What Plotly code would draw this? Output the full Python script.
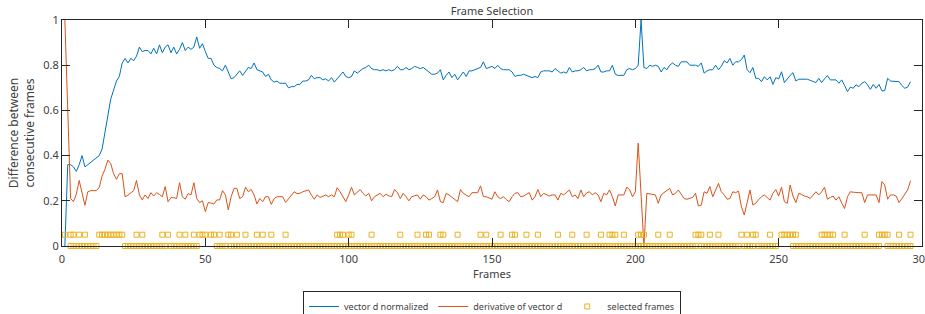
import plotly.graph_objects as go

# ---------------- data ----------------
vector_d = [
    0.00, 0.36, 0.36, 0.35, 0.33, 0.36, 0.40, 0.35, 0.36, 0.37,
    0.38, 0.39, 0.40, 0.43, 0.50, 0.57, 0.65, 0.69, 0.73, 0.75,
    0.81, 0.83, 0.81, 0.83, 0.82, 0.84, 0.88, 0.86, 0.865, 0.865,
    0.85, 0.875, 0.85, 0.89, 0.855, 0.88, 0.89, 0.855, 0.88, 0.85,
    0.87, 0.90, 0.865, 0.88, 0.87, 0.88, 0.925, 0.875, 0.895, 0.86,
    0.83, 0.83, 0.80, 0.79, 0.785, 0.775, 0.80, 0.77, 0.74, 0.745,
    0.76, 0.775, 0.755, 0.77, 0.79, 0.785, 0.81, 0.78, 0.775, 0.77,
    0.75, 0.76, 0.735, 0.725, 0.73, 0.72, 0.72, 0.72, 0.70, 0.705,
    0.705, 0.715, 0.715, 0.73, 0.73, 0.735, 0.755, 0.74, 0.745, 0.745,
    0.735, 0.74, 0.73, 0.745, 0.725, 0.74, 0.75, 0.77, 0.75, 0.745,
    0.75, 0.775, 0.765, 0.775, 0.785, 0.79, 0.80, 0.785, 0.78, 0.78,
    0.775, 0.78, 0.775, 0.78, 0.775, 0.78, 0.795, 0.78, 0.78, 0.79,
    0.78, 0.785, 0.795, 0.79, 0.785, 0.79, 0.78, 0.77, 0.76, 0.76,
    0.765, 0.78, 0.735, 0.755, 0.77, 0.745, 0.76, 0.735, 0.755, 0.77,
    0.75, 0.775, 0.775, 0.78, 0.785, 0.79, 0.815, 0.785, 0.79, 0.795,
    0.785, 0.80, 0.785, 0.78, 0.78, 0.78, 0.77, 0.75, 0.755, 0.755,
    0.76, 0.755, 0.75, 0.745, 0.75, 0.745, 0.77, 0.775, 0.775, 0.775,
    0.77, 0.785, 0.775, 0.765, 0.77, 0.765, 0.79, 0.77, 0.775, 0.775,
    0.78, 0.79, 0.775, 0.78, 0.78, 0.785, 0.80, 0.77, 0.77, 0.775,
    0.775, 0.80, 0.76, 0.755, 0.755, 0.755, 0.78, 0.785, 0.78, 0.785,
    0.80, 1.00, 0.79, 0.785, 0.80, 0.795, 0.80, 0.795, 0.77, 0.79,
    0.78, 0.80, 0.81, 0.80, 0.795, 0.815, 0.815, 0.815, 0.80, 0.80,
    0.80, 0.795, 0.81, 0.765, 0.775, 0.78, 0.78, 0.80, 0.78, 0.795,
    0.82, 0.81, 0.83, 0.80, 0.815, 0.815, 0.825, 0.845, 0.78, 0.767,
    0.79, 0.742, 0.742, 0.727, 0.749, 0.735, 0.749, 0.715, 0.745, 0.739,
    0.771, 0.723, 0.742, 0.755, 0.767, 0.730, 0.738, 0.738, 0.738, 0.738,
    0.733, 0.727, 0.723, 0.742, 0.723, 0.74, 0.754, 0.735, 0.735, 0.735,
    0.72, 0.735, 0.71, 0.683, 0.703, 0.698, 0.713, 0.705, 0.72, 0.727,
    0.713, 0.693, 0.715, 0.698, 0.715, 0.687, 0.687, 0.742, 0.730, 0.730,
    0.730, 0.727, 0.71, 0.698, 0.703, 0.727,
]

derivative_d = [
    1.00, 0.60, 0.21, 0.196, 0.23, 0.29, 0.23, 0.18, 0.24, 0.245,
    0.245, 0.245, 0.26, 0.31, 0.34, 0.38, 0.365, 0.32, 0.295, 0.32,
    0.32, 0.218, 0.225, 0.235, 0.245, 0.29, 0.226, 0.204, 0.226, 0.21,
    0.236, 0.221, 0.236, 0.228, 0.218, 0.263, 0.196, 0.214, 0.214, 0.21,
    0.28, 0.218, 0.207, 0.232, 0.226, 0.28, 0.21, 0.192, 0.20, 0.152,
    0.192, 0.19, 0.186, 0.204, 0.204, 0.245, 0.226, 0.16, 0.218, 0.255,
    0.255, 0.21, 0.218, 0.26, 0.24, 0.25, 0.226, 0.186, 0.21, 0.196,
    0.218, 0.218, 0.184, 0.21, 0.218, 0.218, 0.218, 0.193, 0.21, 0.225,
    0.24, 0.232, 0.233, 0.24, 0.245, 0.248, 0.226, 0.207, 0.226, 0.215,
    0.22, 0.226, 0.218, 0.226, 0.218, 0.258, 0.24, 0.215, 0.196, 0.226,
    0.26, 0.226, 0.236, 0.25, 0.233, 0.221, 0.233, 0.20, 0.218, 0.225,
    0.233, 0.218, 0.229, 0.222, 0.218, 0.25, 0.236, 0.21, 0.233, 0.218,
    0.20, 0.218, 0.222, 0.226, 0.207, 0.226, 0.218, 0.203, 0.21, 0.218,
    0.248, 0.196, 0.192, 0.233, 0.226, 0.215, 0.205, 0.196, 0.25, 0.233,
    0.225, 0.218, 0.236, 0.236, 0.236, 0.266, 0.218, 0.218, 0.212, 0.207,
    0.24, 0.218, 0.21, 0.218, 0.205, 0.196, 0.218, 0.233, 0.236, 0.218,
    0.221, 0.228, 0.236, 0.203, 0.218, 0.25, 0.218, 0.233, 0.226, 0.221,
    0.226, 0.226, 0.203, 0.233, 0.226, 0.236, 0.248, 0.218, 0.226, 0.21,
    0.248, 0.218, 0.235, 0.24, 0.226, 0.236, 0.226, 0.196, 0.233, 0.226,
    0.248, 0.218, 0.177, 0.226, 0.226, 0.226, 0.26, 0.25, 0.218, 0.24,
    0.455, 0.22, 0.00, 0.233, 0.23, 0.226, 0.226, 0.189, 0.226, 0.236,
    0.245, 0.255, 0.226, 0.233, 0.248, 0.226, 0.21, 0.207, 0.21, 0.215,
    0.233, 0.177, 0.181, 0.24, 0.233, 0.263, 0.218, 0.25, 0.277, 0.24,
    0.226, 0.207, 0.21, 0.24, 0.236, 0.243, 0.174, 0.137, 0.196, 0.248,
    0.181, 0.189, 0.205, 0.218, 0.226, 0.215, 0.203, 0.233, 0.25, 0.221,
    0.26, 0.196, 0.189, 0.27, 0.221, 0.192, 0.233, 0.228, 0.221, 0.218,
    0.21, 0.225, 0.24, 0.226, 0.24, 0.26, 0.207, 0.215, 0.221, 0.203,
    0.218, 0.19, 0.166, 0.218, 0.24, 0.238, 0.236, 0.236, 0.236, 0.192,
    0.226, 0.226, 0.226, 0.226, 0.192, 0.285, 0.27, 0.207, 0.226, 0.226,
    0.221, 0.192, 0.21, 0.23, 0.248, 0.289,
]

frames = list(range(1, len(vector_d) + 1))

# selected-frame markers drawn at the upper level (0.05)
selected_high = [
    1, 3, 4, 6, 8, 13, 14, 15, 16, 17, 18, 19, 20, 21, 26, 28, 35, 37, 41, 43,
    46, 48, 49, 50, 52, 53, 55, 58, 59, 61, 64, 68, 70, 73, 78,
    96, 97, 98, 100, 101, 108, 118, 124, 127, 128, 132, 133, 138, 146, 148,
    153, 157, 158, 162, 166, 173, 178, 183, 188, 191, 192, 193, 196,
    201, 202, 203, 208, 212, 221, 222, 223, 226, 229, 237, 239, 241, 242,
    247, 251, 252, 253, 254, 255, 256, 265, 266, 267, 268, 269, 273, 280,
    285, 286, 287, 288, 292, 296,
]
# selected-frame markers drawn at the lower level (0)
low_ranges = [(3, 12), (22, 36), (38, 47), (54, 57), (59, 221), (223, 236),
              (238, 241), (243, 249), (255, 285), (288, 296)]
selected_low = [f for a, b in low_ranges for f in range(a, b + 1)]
level_high, level_low = 0.05, 0.0

x_ticks = [0, 50, 100, 150, 200, 250, 300]
y_ticks = [0, 0.2, 0.4, 0.6, 0.8, 1]
y_tick_text = ["0", "0.2", "0.4", "0.6", "0.8", "1"]

# ---------------- figure ----------------
FONT = "Noto Sans"
AX = "#262626"
TXT = "#404040"

fig = go.Figure()
fig.add_trace(go.Scatter(x=frames, y=vector_d, mode="lines",
                         name="vector d normalized",
                         line=dict(color="#0072BD", width=1)))
fig.add_trace(go.Scatter(x=frames, y=derivative_d, mode="lines",
                         name="derivative of vector d",
                         line=dict(color="#D95319", width=1)))
sel_x = selected_high + selected_low
sel_y = [level_high] * len(selected_high) + [level_low] * len(selected_low)
fig.add_trace(go.Scatter(x=sel_x, y=sel_y, mode="markers",
                         name="selected frames", cliponaxis=False,
                         marker=dict(symbol="square-open", size=5,
                                     color="#EDB120",
                                     line=dict(width=1, color="#EDB120"))))

fig.update_layout(
    width=925, height=314,
    margin=dict(l=62, r=3, t=20, b=68, autoexpand=False),
    paper_bgcolor="white", plot_bgcolor="white",
    hovermode=False,
    font=dict(family=FONT, size=11, color=TXT),
    title=dict(text="Frame Selection", x=0.5, xref="paper", xanchor="center",
               y=1 - 11 / 314, yref="container", yanchor="middle",
               automargin=False,
               font=dict(size=11, color=TXT)),
    legend=dict(orientation="h", x=0.5, xanchor="center",
                y=-0.199, yanchor="top",
                bordercolor=AX, borderwidth=1,
                font=dict(size=9, color=TXT), bgcolor="white",
                itemwidth=30, tracegroupgap=0),
    xaxis=dict(range=[0, 300], tickvals=x_ticks, ticks="inside", ticklen=8,
               tickcolor=AX, showline=True, linecolor=AX, linewidth=1,
               mirror="ticks", showgrid=False, zeroline=False,
               automargin=False, ticklabeloverflow="allow",
               ticklabelstandoff=3,
               tickfont=dict(size=11, color=TXT),
               title=dict(text="Frames", standoff=4,
                          font=dict(size=11, color=TXT))),
    yaxis=dict(range=[0, 1], tickvals=y_ticks, ticktext=y_tick_text,
               ticks="inside", ticklen=8, tickcolor=AX, showline=True,
               linecolor=AX, linewidth=1, mirror="ticks", showgrid=False,
               zeroline=False, automargin=False,
               tickfont=dict(size=11, color=TXT),
               title=dict(text="Difference between<br>consecutive frames",
                          standoff=6, font=dict(size=12, color=TXT))),
)

fig.write_html("out.html",
               config={"displayModeBar": False, "staticPlot": True},
               post_script="document.body.style.margin='0px';"
                           "document.body.style.overflow='hidden';")
